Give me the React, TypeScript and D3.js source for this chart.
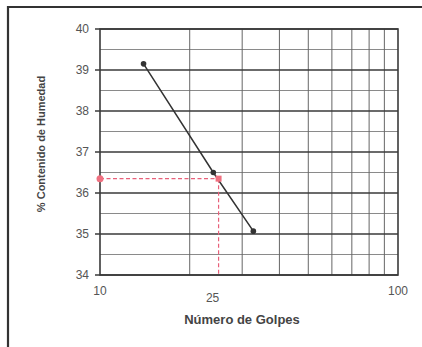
import React from "react";
import * as d3 from "d3";

const golpes = [14, 24, 32.7];
const humedad = [39.15, 36.5, 35.07];
const refGolpes = 25;
const refHumedad = 36.35;
const yTicks = [34, 35, 36, 37, 38, 39, 40];
const yMinor = [34.5, 35.5, 36.5, 37.5, 38.5, 39.5];
const xGrid = [20, 30, 40, 50, 60, 70, 80, 90];
const xLabels = [10, 100];

const W = 422, H = 347;
const L = 100, R = 398, T = 29, B = 275;

export default function App() {
  const x = d3.scaleLog().domain([10, 100]).range([L, R]);
  const y = d3.scaleLinear().domain([34, 40]).range([B, T]);
  const line = d3.line<number>().x((_, i) => x(golpes[i])).y((d) => y(d));
  const font = "'Liberation Sans', Arial, sans-serif";
  return (
    <svg width={W} height={H} style={{ position: "absolute", left: 0, top: 0, background: "#fff" }} fontFamily={font}>
      <rect x={0} y={0} width={W} height={H} fill="#fff" />
      <path d={`M8,${H} L8,7 L${W},7`} fill="none" stroke="#333" strokeWidth={2.2} />
      {yMinor.map((v) => (
        <line key={"m" + v} x1={L} x2={R} y1={y(v)} y2={y(v)} stroke="#8a8a8a" strokeWidth={1} />
      ))}
      {xGrid.map((v) => (
        <line key={"x" + v} x1={x(v)} x2={x(v)} y1={T} y2={B} stroke="#666" strokeWidth={1} />
      ))}
      {yTicks.map((v) => (
        <g key={"y" + v}>
          <line x1={L - 5} x2={R} y1={y(v)} y2={y(v)} stroke="#3a3a3a" strokeWidth={1.6} />
          <text x={89} y={y(v) + 4} textAnchor="end" fontSize={12} fill="#555">{v}</text>
        </g>
      ))}
      <rect x={L} y={T} width={R - L} height={B - T} fill="none" stroke="#3a3a3a" strokeWidth={1.6} />
      {xLabels.map((v) => (
        <text key={"xl" + v} x={x(v)} y={295} textAnchor="middle" fontSize={12} fill="#555">{v}</text>
      ))}
      <text x={x(refGolpes) - 6} y={302} textAnchor="middle" fontSize={12} fill="#555">{refGolpes}</text>
      <path d={line(humedad) || ""} fill="none" stroke="#333" strokeWidth={1.5} />
      {humedad.map((v, i) => (
        <circle key={"p" + i} cx={x(golpes[i])} cy={y(v)} r={2.8} fill="#333" />
      ))}
      <line x1={L} x2={x(refGolpes)} y1={y(refHumedad)} y2={y(refHumedad)} stroke="#e8607a" strokeWidth={1.2} strokeDasharray="4,2.5" />
      <line x1={x(refGolpes)} x2={x(refGolpes)} y1={y(refHumedad)} y2={B} stroke="#e8607a" strokeWidth={1.2} strokeDasharray="4,2.5" />
      <circle cx={L} cy={y(refHumedad)} r={3.5} fill="#f07080" />
      <rect x={x(refGolpes) - 3} y={y(refHumedad) - 3} width={6} height={6} fill="#f07080" />
      <text x={242} y={324} textAnchor="middle" fontSize={13} fontWeight="bold" fill="#444">Número de Golpes</text>
      <text transform={`translate(45,144) rotate(-90)`} textAnchor="middle" fontSize={11} fontWeight="bold" fill="#444">% Contenido de Humedad</text>
    </svg>
  );
}
